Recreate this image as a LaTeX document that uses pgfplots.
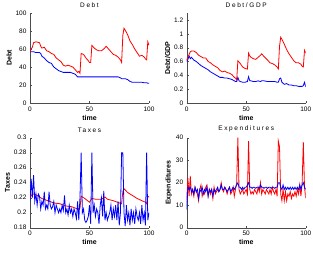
\documentclass[border=0pt]{standalone}
\usepackage{fontspec}
\setmainfont{Liberation Sans}
\newfontfamily\spaced[LetterSpace=25]{Liberation Sans}
\usepackage{pgfplots}
\usepackage{pgfplotstable}
\pgfplotsset{compat=1.18}

\pgfplotstableread{
t r b
0 57 57
1 60 57
2 62 57
3 67 57
5 68 56
8 67 56
9 63 55
10 61 52
12 62 50
14 58 47
16 57 45
18 55 44
20 54 40
22 50 38
24 48 36
26 46 35
28 42 34
30 41 34
32 42 34
34 41 34
36 40 33
38 37 32
40 34 29
41 35 29
42 33 29
43 55 29
45 54 29
47 50 29
49 47 29
50 45 29
51 45 29
52 64 29
54 61 29
56 59 29
58 58 29
60 58 29
62 60 29
64 63 29
66 60 29
68 57 29
70 54 29
72 53 29
74 51 29
76 48 28
77 45 27
78 75 27
79 83 27
80 81 27
82 76 26
84 69 24
86 65 23
88 60 23
90 56 23
92 52 23
94 53 23
96 51 22.5
97 49 22.5
98 48 22.5
99 68 22
100 64 22
}\debt

\pgfplotstableread{
t r b
0 0.62 0.60
1 0.66 0.63
2 0.70 0.68
3 0.74 0.64
4 0.75 0.66
6 0.75 0.62
8 0.73 0.60
10 0.69 0.57
12 0.67 0.54
14 0.65 0.52
16 0.65 0.50
18 0.60 0.48
20 0.58 0.45
22 0.55 0.43
24 0.53 0.41
26 0.51 0.39
28 0.47 0.37
30 0.45 0.37
32 0.46 0.36
34 0.44 0.36
36 0.43 0.35
38 0.41 0.34
40 0.37 0.32
41 0.36 0.31
42 0.33 0.31
43 0.61 0.37
44 0.59 0.32
45 0.57 0.31
47 0.52 0.30
49 0.50 0.30
51 0.49 0.31
52 0.72 0.38
53 0.68 0.32
54 0.66 0.32
56 0.64 0.31
58 0.63 0.31
60 0.66 0.32
62 0.69 0.31
63 0.71 0.32
65 0.67 0.32
68 0.62 0.31
70 0.58 0.31
72 0.57 0.31
74 0.55 0.31
76 0.52 0.30
77 0.49 0.30
78 0.82 0.35
79 0.95 0.36
80 0.92 0.30
82 0.85 0.27
84 0.77 0.28
86 0.71 0.26
88 0.66 0.26
90 0.61 0.25
92 0.58 0.25
94 0.58 0.24
96 0.56 0.24
97 0.53 0.24
98 0.52 0.25
99 0.76 0.30
100 0.72 0.23
}\dgdp

\pgfplotstableread{
t r
0 0.220
2 0.225
5 0.224
10 0.219
15 0.216
20 0.213
25 0.212
30 0.209
35 0.208
40 0.205
42 0.206
43 0.222
46 0.219
50 0.214
52 0.219
55 0.218
60 0.218
63 0.221
65 0.218
70 0.216
75 0.213
77 0.212
78 0.228
79 0.232
82 0.227
86 0.223
90 0.219
94 0.216
97 0.214
98 0.212
99 0.222
100 0.221
}\taxr

\pgfplotstableread{
t b
0 0.215
1 0.245
2 0.22
3 0.25
4 0.215
5 0.225
6 0.21
7 0.225
8 0.222
9 0.205
10 0.215
11 0.21
12 0.228
13 0.205
14 0.21
15 0.205
16 0.228
17 0.21
18 0.205
19 0.208
20 0.215
21 0.2
22 0.21
23 0.205
24 0.2
25 0.205
26 0.2
27 0.21
28 0.203
29 0.223
30 0.2
31 0.205
32 0.197
33 0.21
34 0.2
35 0.205
36 0.195
37 0.205
38 0.2
39 0.192
40 0.215
41 0.19
42 0.22
43 0.28
44 0.2
45 0.205
46 0.19
47 0.187
48 0.19
49 0.195
50 0.21
51 0.185
52 0.28
53 0.2
54 0.21
55 0.195
56 0.205
57 0.2
58 0.185
59 0.21
60 0.22
61 0.195
62 0.229
63 0.19
64 0.2
65 0.19
66 0.195
67 0.2
68 0.21
69 0.19
70 0.205
71 0.195
72 0.21
73 0.19
74 0.215
75 0.183
76 0.2
77 0.28
78 0.28
79 0.2
80 0.182
81 0.21
82 0.19
83 0.2
84 0.183
85 0.205
86 0.19
87 0.2
88 0.185
89 0.205
90 0.195
91 0.19
92 0.2
93 0.185
94 0.21
95 0.19
96 0.2
97 0.183
98 0.28
99 0.19
100 0.2
}\taxb

\pgfplotstableread{
t r b
0 12 8
1 22 18
2 14 17
3 23 18
4 15 16
5 17 17
6 14 15
7 18 18
8 16 16
9 15 17
10 12 13
11 17 17
12 19 16
13 14 18
14 16 15
15 15 17
16 18 16
17 19 18
18 14 14
19 17 17
20 15 16
21 17 17
22 13 14
23 18 17
24 15 16
25 16 17
26 17 18
27 16 16
28 17 17
29 20 19
30 17 17
31 16 17
32 18 18
33 17 17
34 15 16
35 17 17
36 18 18
37 15 16
38 16 17
39 18 18
40 14 17
41 17 18
42 20 19
43 40 20
44 17 18
45 15 18
46 16 17
47 17 18
48 15 17
49 16 18
50 17 18
51 15 19
52 38.5 20
53 17 18
54 15 18
55 16 17.5
56 15 18
57 17 18
58 16 17.5
59 15 18
60 18 18
61 16 17.5
62 20 19
63 15 18
64 17 18
65 16 17.5
66 15 18
67 17 18
68 16 17.5
69 15 18
70 17 18
71 15 17.5
72 18 18
73 16 18
74 15 17.5
75 17 18
76 14 18
77 38.5 20
78 36 20
79 15 18
80 12 17
81 17 19
82 12 17
83 16 18
84 12 17
85 15 18
86 14 17
87 16 18
88 13 17
89 15 18
90 14 17
91 16 18
92 14 17
93 17 18
94 15 17
95 19 19
96 14 17
97 20 19
98 38 20
99 18 18
100 13 17
}\expd

\pgfplotsset{
  every axis/.style={
    scale only axis, width=119pt, height=90pt,
    axis lines*=left, xmin=0, xmax=100,
    xtick={0,50,100},
    tick align=inside,
    major tick length=2pt,
    axis line style={black!70},
    tick style={black!70},
    ticklabel style={font=\fontsize{6.5}{7}\selectfont},
    /pgf/number format/assume math mode=true,
    xlabel={\bfseries time},
    xlabel style={font=\fontsize{7}{8}\selectfont, yshift=3pt},
    ylabel style={font=\fontsize{7}{8}\selectfont, yshift=-3pt},
    title style={font=\fontsize{6.5}{7}\selectfont\spaced, yshift=-4pt},
    clip=true,
  },
  rl/.style={red, line width=0.8pt},
  bl/.style={blue, line width=0.8pt},
}

\begin{document}
\begin{tikzpicture}
\path[use as bounding box] (0,0) rectangle (313pt,252pt);
\begin{axis}[at={(30pt,149pt)}, anchor=south west,
  ymin=0, ymax=100, ytick={0,20,...,100},
  title={Debt}, ylabel={\bfseries Debt}]
\addplot[bl] table[x=t,y=b] {\debt};
\addplot[rl] table[x=t,y=r] {\debt};
\end{axis}
\begin{axis}[at={(186.7pt,149pt)}, anchor=south west,
  ymin=0, ymax=1.3, ytick={0,0.2,...,1.2},
  title={Debt/GDP}, ylabel={\bfseries Debt/GDP}]
\addplot[bl] table[x=t,y=b] {\dgdp};
\addplot[rl] table[x=t,y=r] {\dgdp};
\end{axis}
\begin{axis}[at={(30pt,24.3pt)}, anchor=south west,
  ymin=0.18, ymax=0.3, ytick={0.18,0.2,0.22,0.24,0.26,0.28,0.3},
  yticklabel style={/pgf/number format/fixed},
  title={Taxes}, ylabel={\bfseries Taxes}]
\addplot[rl] table[x=t,y=r] {\taxr};
\addplot[bl] table[x=t,y=b] {\taxb};
\end{axis}
\begin{axis}[at={(186.7pt,24.3pt)}, anchor=south west,
  ymin=0, ymax=40, ytick={0,10,...,40},
  title={Expenditures}, ylabel={\bfseries Expenditures}]
\addplot[rl] table[x=t,y=r] {\expd};
\addplot[bl] table[x=t,y=b] {\expd};
\end{axis}
\end{tikzpicture}
\end{document}
